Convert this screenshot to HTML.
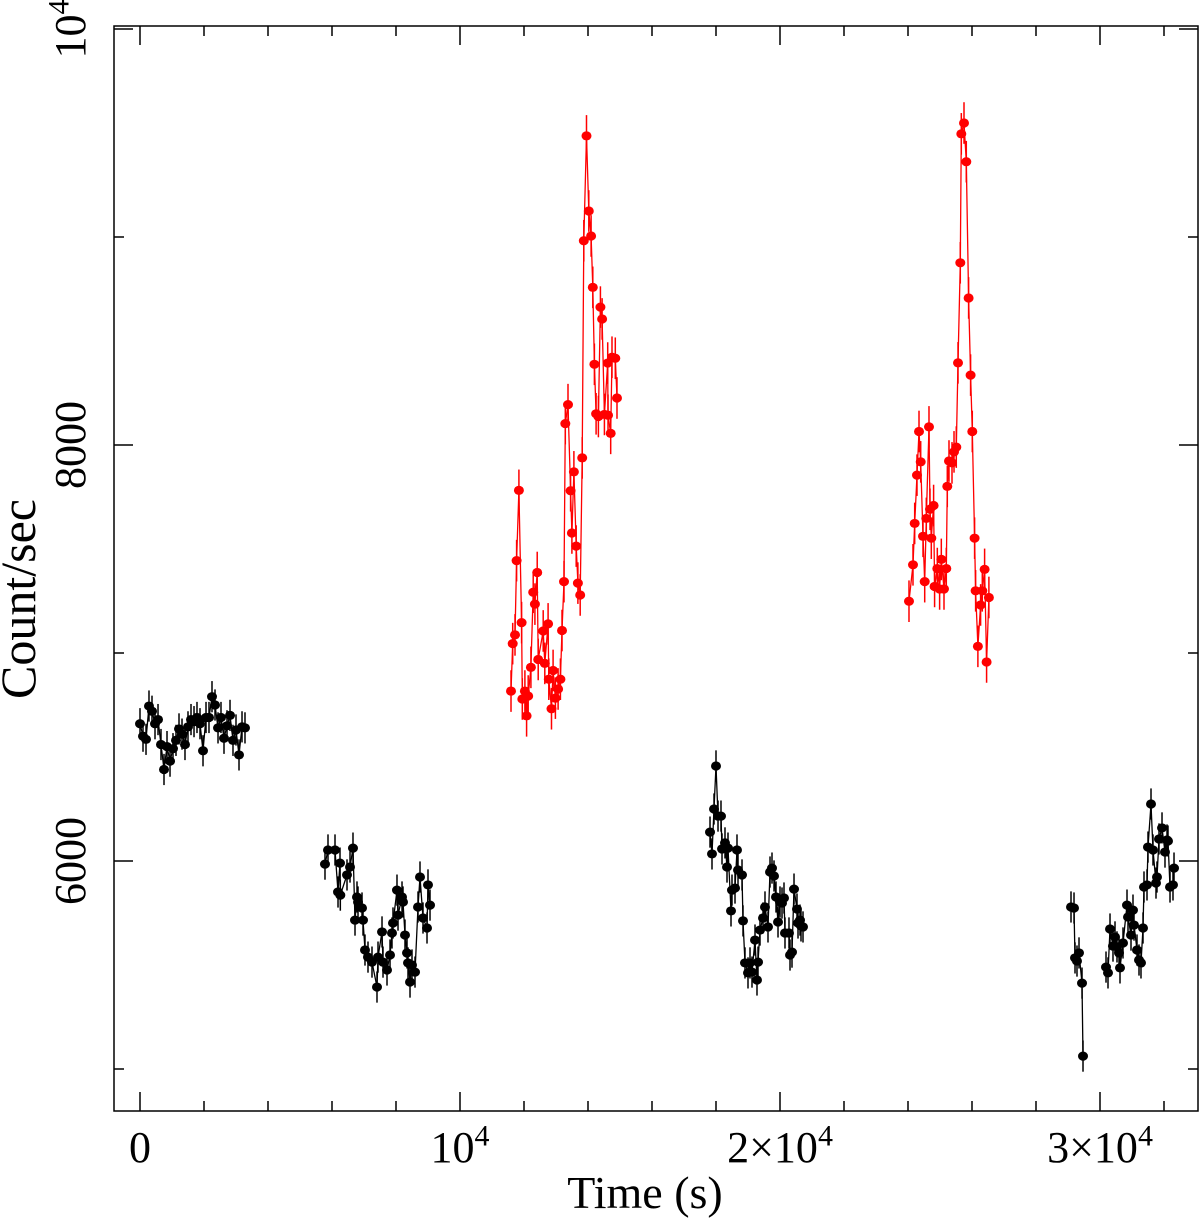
<!DOCTYPE html>
<html><head><meta charset="utf-8"><style>
html,body{margin:0;padding:0;background:#fff;}
svg{display:block;font-family:"Liberation Serif",serif;}
</style></head><body>
<svg id="chart" width="1200" height="1222" viewBox="0 0 1200 1222" xmlns="http://www.w3.org/2000/svg">
<rect x="0" y="0" width="1200" height="1222" fill="#fff"/>
<g id="marks"></g>
<rect x="114" y="26" width="1084" height="1085" fill="none" stroke="#000" stroke-width="1.5"/>
<g id="ticks"></g>
<text x="645" y="1208" font-size="46" text-anchor="middle">Time (s)</text>
<text transform="translate(35,599) rotate(-90)" font-size="50" text-anchor="middle">Count/sec</text>
</svg>
<script>
const seg1T=[0,94,188,281,375,469,563,656,750,844,938,1031,1125,1219,1313,1406,1500,1594,1688,1781,1875,1969,2063,2156,2250,2344,2438,2531,2625,2719,2813,2906,3000,3094,3188,3281];
const seg1C=[6660,6600,6585,6745,6720,6660,6680,6560,6440,6550,6480,6540,6580,6635,6610,6560,6645,6680,6670,6690,6660,6530,6690,6690,6790,6750,6640,6690,6590,6650,6700,6580,6630,6510,6645,6640];
const seg2T=[5781,5875,6094,6188,6250,6260,6469,6563,6656,6719,6781,6813,6938,6969,7031,7125,7250,7406,7438,7563,7594,7719,7813,7875,7906,8031,8063,8188,8219,8281,8344,8375,8438,8500,8594,8688,8750,8844,8969,9000,9063];
const seg2C=[5985,6053,6053,5851,5990,5836,5933,5971,6062,5716,5827,5803,5774,5716,5572,5538,5514,5394,5538,5659,5514,5476,5548,5654,5702,5860,5740,5827,5803,5644,5558,5510,5418,5500,5466,5779,5923,5726,5678,5885,5788];
const red1T=[11594,11647,11719,11769,11841,11925,11947,12028,12081,12131,12216,12288,12341,12413,12444,12600,12650,12753,12775,12859,12909,12981,13066,13138,13188,13250,13291,13375,13456,13497,13559,13631,13684,13756,13819,13869,13953,14025,14097,14150,14200,14253,14325,14388,14441,14513,14616,14626,14709,14750,14853,14906];
const red1C=[6817,7045,7087,7444,7782,7146,6779,6817,6698,6793,6931,7292,7235,7387,6969,7106,6950,7140,6874,6732,6916,6783,6827,6874,7108,7343,8103,8194,7780,7577,7871,7514,7336,7279,7938,8982,9486,9125,9005,8758,8388,8150,8137,8663,8606,8147,8394,8143,8056,8422,8417,8226];
const seg3T=[17813,17875,17938,18000,18063,18156,18188,18281,18344,18375,18469,18500,18594,18656,18688,18813,18844,18906,19000,19063,19125,19219,19281,19313,19375,19469,19531,19625,19688,19750,19813,19875,19938,20000,20063,20125,20156,20281,20313,20375,20438,20531,20563,20625,20656,20719];
const seg3C=[6139,6034,6250,6457,6216,6216,6058,6087,5971,6062,5760,5860,5870,6053,5957,5933,5712,5510,5462,5510,5466,5620,5428,5514,5668,5726,5779,5683,5947,5966,5928,5827,5707,5803,5798,5822,5654,5654,5548,5562,5865,5769,5702,5716,5688,5683];
const red2T=[24031,24156,24209,24281,24344,24397,24469,24522,24572,24656,24688,24728,24800,24831,24916,24988,25041,25125,25197,25228,25281,25375,25438,25509,25563,25634,25666,25750,25822,25894,25956,26009,26081,26113,26184,26269,26322,26394,26456,26528];
const red2C=[7249,7424,7623,7855,8065,7919,7561,7343,7647,8087,7691,7552,7709,7320,7406,7308,7450,7308,7406,7801,7923,7914,7967,7990,8395,8876,9496,9548,9362,8707,8336,8065,7552,7299,7032,7231,7299,7402,6957,7267];
const seg4T=[29094,29188,29219,29281,29344,29438,29469,30188,30250,30313,30406,30469,30531,30594,30625,30719,30844,30875,30969,31031,31063,31156,31219,31281,31344,31375,31469,31500,31594,31656,31750,31781,31844,31938,32031,32094,32125,32188,32281,32313];
const seg4C=[5779,5774,5534,5519,5558,5413,5062,5490,5462,5673,5591,5635,5587,5558,5486,5606,5788,5731,5644,5764,5692,5572,5524,5510,5678,5875,5885,6067,6274,6053,5894,5923,6106,6159,6043,6101,6096,5875,5885,5966];
const xMajor=[0,10000,20000,30000];
const xMajorLabels=["0","10|4","2×10|4","3×10|4"];
const xMinor=[2000,4000,6000,8000,12000,14000,16000,18000,22000,24000,26000,28000,32000];
const yMajor=[6000,8000,10000];
const yMajorLabels=["6000","8000","10|4"];
const yMinor=[5000,7000,9000];

const NS="http://www.w3.org/2000/svg";
const X=t=>140+t*0.032;
const Y=c=>445-(c-8000)*0.208;
const marks=document.getElementById('marks');
const ticks=document.getElementById('ticks');
function mk(tag,attrs,parent){const e=document.createElementNS(NS,tag);for(const k in attrs)e.setAttribute(k,attrs[k]);parent.appendChild(e);return e;}

function drawSeries(T,C,color,err,name){
  const g=mk('g',{},marks);
  
  
  let d='';
  T.forEach((t,i)=>{
    const cmd=(i===0||t-T[i-1]>500)?'M':'L';
    d+=cmd+X(t).toFixed(1)+','+Y(C[i]).toFixed(1)+' ';
  });
  const pl=mk('path',{d:d,fill:'none',stroke:color,'stroke-width':1.3},g);
  
  
  T.forEach((t,i)=>{
    const eb=mk('line',{x1:X(t),x2:X(t),y1:Y(C[i]+err),y2:Y(C[i]-err),stroke:color,'stroke-width':1.5},g);
    
    
    const p=mk('ellipse',{cx:X(t),cy:Y(C[i]),rx:5,ry:4.6,fill:color},g);
    
    
  });
}
drawSeries(seg1T,seg1C,'#000',75,'black-segment-1');
drawSeries(seg2T,seg2C,'#000',75,'black-segment-2');
drawSeries(seg3T,seg3C,'#000',75,'black-segment-3');
drawSeries(seg4T,seg4C,'#000',75,'black-segment-4');
drawSeries(red1T,red1C,'#f00',100,'red-segment-1');
drawSeries(red2T,red2C,'#f00',100,'red-segment-2');

function tickLine(x1,y1,x2,y2,name){const l=mk('line',{x1,y1,x2,y2,stroke:'#000','stroke-width':1.5},ticks);}
function labelWithSup(parent,s,fs){const parts=s.split('|');parent.appendChild(document.createTextNode(parts[0]));if(parts[1]){const sp=mk('tspan',{'font-size':fs*0.68,dy:-fs*0.38},parent);sp.textContent=parts[1];}}
xMajor.forEach((v,i)=>{
  tickLine(X(v),1111,X(v),1092,'x-major-tick');
  tickLine(X(v),26,X(v),45,'x-major-tick-top');
  const t=mk('text',{x:X(v),y:1162,'font-size':44,'text-anchor':'middle'},ticks);
  
  
  labelWithSup(t,xMajorLabels[i],44);
});
xMinor.forEach(v=>{tickLine(X(v),1111,X(v),1101,'x-minor-tick');tickLine(X(v),26,X(v),36,'x-minor-tick-top');});
yMajor.forEach((v,i)=>{
  tickLine(114,Y(v),133,Y(v),'y-major-tick');
  tickLine(1198,Y(v),1179,Y(v),'y-major-tick-right');
  const t=mk('text',{transform:`translate(85,${Y(v)}) rotate(-90)`,'font-size':44,'text-anchor':'middle'},ticks);
  
  
  labelWithSup(t,yMajorLabels[i],44);
});
yMinor.forEach(v=>{tickLine(114,Y(v),124,Y(v),'y-minor-tick');tickLine(1198,Y(v),1188,Y(v),'y-minor-tick-right');});
</script>
</body></html>
